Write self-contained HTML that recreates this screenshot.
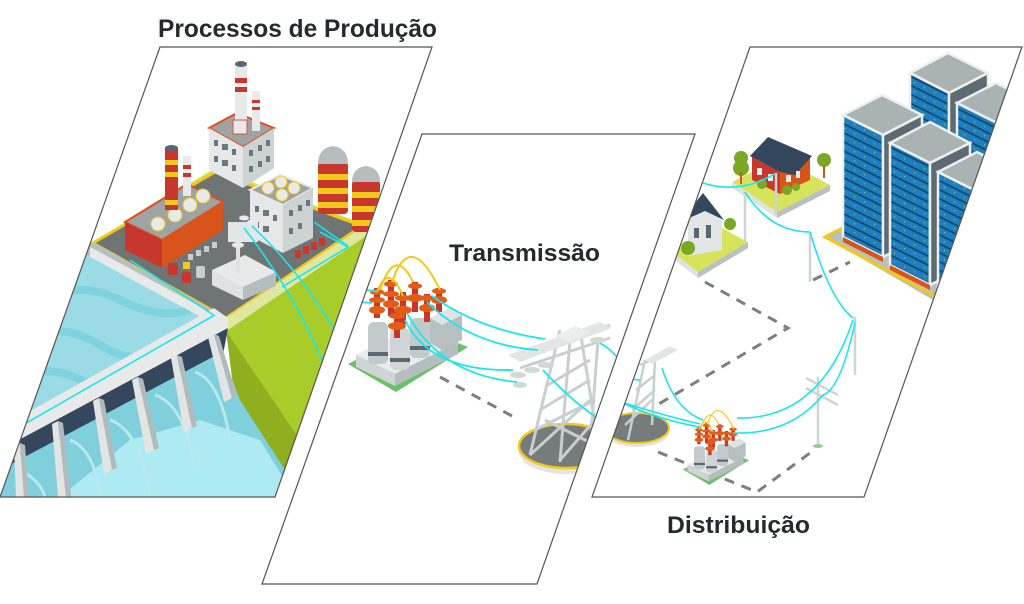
<!DOCTYPE html>
<html><head><meta charset="utf-8"><style>
html,body{margin:0;padding:0;background:#fff;}
svg{display:block}
text{font-family:"Liberation Sans",sans-serif;font-weight:bold;fill:#262a30}
</style></head><body>
<svg width="1024" height="604" viewBox="0 0 1024 604" xmlns="http://www.w3.org/2000/svg">
<defs>
<clipPath id="c1"><polygon points="160,47 432,47 275,497 0,497"/></clipPath>
<clipPath id="c2"><polygon points="422,134 695,134 537,584 262,584"/></clipPath>
<clipPath id="c3"><polygon points="750,47 1022,47 864,497 592,497"/></clipPath>
<pattern id="srv" width="10" height="9" patternUnits="userSpaceOnUse" patternTransform="skewY(26.565)">
<rect width="10" height="9" fill="#1d7fc0"/><rect y="7" width="10" height="2" fill="#15476e"/><rect x="4" y="3" width="1" height="1" fill="#b6e05a"/>
</pattern>
<g id="trans">
<polygon points="348,364 420,328 468,347 396,392" fill="#6cc06a"/>
<polygon points="356,355 420,323 458,342 395,374" fill="#e9ecec"/>
<polygon points="356,355 395,374 395,386 356,367" fill="#cfd4d5"/>
<polygon points="395,374 458,342 458,354 395,386" fill="#b5bdbe"/>
<polygon points="430,318 450,308 462,315 462,340 442,350 430,343" fill="#b7c0c1"/>
<polygon points="430,318 450,308 462,315 442,325" fill="#dfe3e3"/>
<rect x="368" y="322" width="20" height="42" rx="6" fill="#c3cacb"/><rect x="368" y="352" width="20" height="4" fill="#5a6670"/>
<rect x="390" y="328" width="20" height="42" rx="6" fill="#d0d6d7"/><rect x="390" y="358" width="20" height="4" fill="#5a6670"/>
<rect x="410" y="318" width="20" height="40" rx="6" fill="#c3cacb"/><rect x="410" y="346" width="20" height="4" fill="#5a6670"/>
<g fill="#c8372d"><rect x="374" y="288" width="6" height="30"/><rect x="388" y="280" width="6" height="36"/><rect x="400" y="292" width="6" height="32"/><rect x="412" y="282" width="6" height="30"/><rect x="424" y="294" width="6" height="28"/><rect x="436" y="288" width="6" height="24"/><rect x="394" y="310" width="6" height="28"/></g>
<g fill="#e35d17"><ellipse cx="377" cy="292" rx="7" ry="3"/><ellipse cx="377" cy="300" rx="8" ry="3"/><ellipse cx="377" cy="310" rx="8" ry="4"/><ellipse cx="391" cy="284" rx="7" ry="3"/><ellipse cx="391" cy="294" rx="8" ry="3"/><ellipse cx="391" cy="304" rx="8" ry="4"/><ellipse cx="403" cy="298" rx="8" ry="3"/><ellipse cx="403" cy="310" rx="9" ry="4"/><ellipse cx="415" cy="286" rx="7" ry="3"/><ellipse cx="415" cy="298" rx="8" ry="4"/><ellipse cx="427" cy="298" rx="7" ry="3"/><ellipse cx="427" cy="308" rx="8" ry="4"/><ellipse cx="439" cy="291" rx="7" ry="3"/><ellipse cx="439" cy="300" rx="8" ry="4"/><ellipse cx="397" cy="316" rx="8" ry="3"/><ellipse cx="397" cy="326" rx="9" ry="4"/></g>
<g fill="none" stroke="#f2c81b" stroke-width="2"><path d="M380,290 Q395,245 413,282"/><path d="M392,282 Q410,228 440,290"/><path d="M377,292 Q388,262 403,296"/></g>
</g>
</defs>

<!-- ============ PANEL 1 ============ -->
<g clip-path="url(#c1)">
<polygon points="80,250 215,168 380,230 300,290" fill="#d8e35c"/>
<polygon points="93,243 215,172 362,226 226,318" fill="#6f7575" stroke="#f2c81b" stroke-width="3"/>
<polygon points="226,318 370,225 380,225 330,497 280,497 240,440 226,330" fill="#a8cc2a"/>
<polygon points="226,330 240,440 280,497 320,497 300,440 232,340" fill="#8faf1f"/>
<polygon points="226,318 370,222 372,232 228,330" fill="#dfe7a0"/>
<polygon points="0,260 90,255 216,318 30,420 0,430" fill="#9adbe6"/>
<path d="M40,300 Q80,280 120,300 T190,310 M20,340 Q60,320 100,345 T170,345 M10,380 Q50,360 90,385" stroke="#7fd3df" stroke-width="8" fill="none"/>
<polygon points="0,250 95,243 226,318 226,330 95,255 0,262" fill="#b6c0c0"/>
<polygon points="90,247 225,320 225,330 90,257" fill="#e8eaea"/>
<polygon points="0,428 214,308 228,318 228,330 14,448 0,452" fill="#e8eaea"/>
<polygon points="0,450 228,328 222,360 0,480" fill="#34475d"/>
<polygon points="0,470 222,352 240,400 285,470 295,497 0,497" fill="#7fcfdc"/>
<polygon points="60,497 130,440 200,420 260,440 295,497" fill="#aeeaf2"/>
<g stroke="#b7e9ef" stroke-width="3" fill="none">
<path d="M20,470 Q40,480 45,497"/><path d="M70,440 Q95,450 100,497"/><path d="M110,420 Q140,430 150,497"/><path d="M155,395 Q185,405 195,470"/><path d="M195,372 Q220,380 230,440"/>
</g>
<g fill="#e3e5e5">
<polygon points="14,446 20,443 24,497 16,497"/><polygon points="52,424 58,421 66,497 58,497"/><polygon points="93,401 99,398 112,470 104,474"/><polygon points="132,380 138,377 154,450 146,454"/><polygon points="171,358 177,355 192,428 184,432"/><polygon points="208,337 214,334 232,398 224,402"/>
</g>
<g fill="#b2bbbb">
<polygon points="20,443 25,445 29,497 24,497"/><polygon points="58,421 63,423 71,497 66,497"/><polygon points="99,398 104,400 117,468 112,470"/><polygon points="138,377 143,379 159,448 154,450"/><polygon points="177,355 182,357 197,426 192,428"/><polygon points="214,334 219,336 237,396 232,398"/>
</g>
<path d="M0,438 L213,316" stroke="#19e6ee" stroke-width="1.6"/>
<polyline points="130,260 215,316" stroke="#19e6ee" stroke-width="1.6" fill="none"/>
<polyline points="282,287 348,247 320,232" stroke="#19e6ee" stroke-width="1.6" fill="none"/>
<polygon points="125,222 187,184 223,202 162,240" fill="#9ea4a4" stroke="#e44d1c" stroke-width="2"/>
<polygon points="125,222 162,240 162,268 125,250" fill="#c8372d"/>
<polygon points="162,240 223,202 223,230 162,268" fill="#d9541a"/>
<g fill="#e8eaea" stroke="#f2c81b" stroke-width="1"><circle cx="158" cy="224" r="7"/><circle cx="175" cy="215" r="7"/><circle cx="190" cy="205" r="7"/><circle cx="203" cy="196" r="7"/></g>
<rect x="165" y="148" width="13" height="62" fill="#c8372d"/><rect x="165" y="160" width="13" height="5" fill="#f2c81b"/><rect x="165" y="172" width="13" height="5" fill="#f2c81b"/><rect x="165" y="200" width="13" height="5" fill="#f2c81b"/><ellipse cx="171.5" cy="148" rx="6.5" ry="3" fill="#5a6670"/>
<rect x="183" y="156" width="8" height="40" fill="#e8eaea"/><rect x="183" y="165" width="8" height="4" fill="#c8372d"/><rect x="183" y="173" width="8" height="4" fill="#c8372d"/>
<polygon points="209,128 237,113 274,128 243,147" fill="#9ea4a4" stroke="#e44d1c" stroke-width="2"/>
<polygon points="209,128 243,147 243,188 209,170" fill="#e6e8e8"/>
<polygon points="243,147 274,128 274,168 243,188" fill="#cdd2d3"/>
<g fill="#6a7880"><rect x="214" y="140" width="4" height="6"/><rect x="222" y="144" width="6" height="6"/><rect x="232" y="149" width="4" height="6"/><rect x="214" y="156" width="4" height="6"/><rect x="222" y="160" width="6" height="6"/><rect x="232" y="165" width="4" height="6"/><rect x="249" y="150" width="4" height="6"/><rect x="258" y="145" width="4" height="6"/><rect x="266" y="140" width="4" height="6"/><rect x="249" y="166" width="4" height="6"/><rect x="258" y="161" width="4" height="6"/><rect x="266" y="156" width="4" height="6"/></g>
<rect x="235" y="64" width="12" height="62" fill="#e8eaea"/><rect x="235" y="78" width="12" height="5" fill="#c8372d"/><rect x="235" y="87" width="12" height="5" fill="#c8372d"/><ellipse cx="241" cy="64" rx="6" ry="3" fill="#5a6670"/>
<rect x="252" y="91" width="8" height="40" fill="#e8eaea"/><rect x="252" y="100" width="8" height="3" fill="#c8372d"/><rect x="252" y="107" width="8" height="3" fill="#c8372d"/>
<rect x="233" y="120" width="14" height="14" fill="#e8eaea" stroke="#d9541a"/>
<polygon points="250,190 280,175 313,188 283,205" fill="#9ea4a4" stroke="#e8eaea" stroke-width="2"/>
<polygon points="250,190 283,205 283,253 250,236" fill="#e6e8e8"/>
<polygon points="283,205 313,188 313,238 283,253" fill="#cdd2d3"/>
<g fill="#e8eaea" stroke="#f2c81b" stroke-width="1"><circle cx="268" cy="188" r="6"/><circle cx="281" cy="182" r="6"/><circle cx="294" cy="188" r="6"/><circle cx="282" cy="195" r="6"/></g>
<g fill="#6a7880"><rect x="255" y="206" width="4" height="6"/><rect x="263" y="210" width="6" height="6"/><rect x="273" y="215" width="4" height="6"/><rect x="255" y="222" width="4" height="6"/><rect x="263" y="226" width="6" height="6"/><rect x="289" y="210" width="4" height="6"/><rect x="298" y="205" width="4" height="6"/><rect x="306" y="200" width="4" height="6"/><rect x="289" y="228" width="4" height="6"/><rect x="298" y="223" width="4" height="6"/></g>
<polyline points="314,222 348,246" stroke="#19e6ee" stroke-width="1.6" fill="none"/>
<rect x="318" y="162" width="30" height="52" rx="4" fill="#c8372d"/><rect x="318" y="174" width="30" height="6" fill="#f2c81b"/><rect x="318" y="188" width="30" height="6" fill="#f2c81b"/><rect x="318" y="202" width="30" height="6" fill="#f2c81b"/>
<path d="M318,164 Q318,148 333,146 Q348,148 348,164 Z" fill="#b5bdbe"/>
<rect x="352" y="180" width="28" height="52" rx="4" fill="#c8372d"/><rect x="352" y="192" width="28" height="6" fill="#f2c81b"/><rect x="352" y="206" width="28" height="6" fill="#f2c81b"/><rect x="352" y="220" width="28" height="6" fill="#f2c81b"/>
<path d="M352,182 Q352,168 366,166 Q380,168 380,182 Z" fill="#b5bdbe"/>
<polygon points="212,270 245,255 276,272 243,290" fill="#e8eaea"/><polygon points="212,270 243,287 243,300 212,285" fill="#dfe2e2"/><polygon points="243,287 276,272 276,286 243,300" fill="#b5bdbe"/>
<rect x="236" y="245" width="4" height="28" fill="#dfe2e2"/><ellipse cx="238" cy="245" rx="6" ry="3" fill="#e8eaea"/>
<rect x="228" y="222" width="30" height="20" fill="#e3e6e6"/><ellipse cx="244" cy="218" rx="5" ry="2.5" fill="#e8eaea"/><ellipse cx="252" cy="222" rx="5" ry="2.5" fill="#e8eaea"/>
<g fill="#c8372d"><rect x="168" y="263" width="10" height="12" rx="2"/><rect x="182" y="272" width="9" height="11" rx="2"/><rect x="295" y="250" width="6" height="8"/><rect x="303" y="246" width="6" height="8"/><rect x="311" y="242" width="6" height="8"/><rect x="319" y="238" width="6" height="8"/></g>
<g fill="#c8ced0"><rect x="196" y="266" width="9" height="12" rx="2"/><rect x="188" y="254" width="5" height="6"/><rect x="196" y="250" width="5" height="6"/><rect x="204" y="246" width="5" height="6"/><rect x="212" y="242" width="5" height="6"/></g>
<rect x="183" y="262" width="7" height="7" fill="#f2c81b"/>
<path d="M244,228 Q300,300 330,380" stroke="#19e6ee" stroke-width="1.6" fill="none"/>
<path d="M252,226 Q320,290 360,380" stroke="#19e6ee" stroke-width="1.6" fill="none"/>
</g>
<polygon points="160,47 432,47 275,497 0,497" fill="none" stroke="#555" stroke-width="1.2"/>

<!-- ============ PANEL 2 ============ -->
<g clip-path="url(#c2)">
<line x1="440" y1="377" x2="512" y2="416" stroke="#7b7f80" stroke-width="3" stroke-dasharray="10,8"/>
<ellipse cx="566" cy="452" rx="47" ry="22" fill="#e3e5e5"/>
<ellipse cx="566" cy="446" rx="47" ry="22" fill="#767c7c" stroke="#f2c81b" stroke-width="2.5"/>
<g stroke="#c9cfd1" stroke-width="3" fill="none">
<path d="M530,455 L560,330 M600,455 L580,330 M560,462 L570,340 M590,448 L598,340"/>
<path d="M535,430 L595,400 M540,410 L590,380 M548,385 L590,360 M530,455 L590,400 M560,460 L595,420 M545,420 L595,445"/>
<path d="M515,358 L610,325 M520,368 L610,338"/>
</g>
<polygon points="508,355 600,322 612,328 520,362" fill="#e3e5e5"/>
<polygon points="556,336 575,326 590,332 570,342" fill="#eceeee"/>
<g fill="#d2d7d8"><ellipse cx="518" cy="375" rx="8" ry="3"/><ellipse cx="532" cy="370" rx="8" ry="3"/><ellipse cx="546" cy="365" rx="8" ry="3"/><ellipse cx="520" cy="385" rx="7" ry="3"/><ellipse cx="598" cy="340" rx="8" ry="3"/></g>
<use href="#trans"/>
<g stroke="#19e6ee" stroke-width="1.8" fill="none">
<path d="M330,283 L378,292"/><path d="M330,300 L372,303"/>
<path d="M432,296 Q480,330 545,339"/><path d="M427,302 Q470,345 538,350"/>
<path d="M407,313 Q440,375 517,382"/><path d="M405,320 Q430,372 513,370"/>
<path d="M543,370 Q570,400 600,420"/><path d="M600,343 Q615,352 620,362"/>
</g>
</g>
<polygon points="422,134 695,134 537,584 262,584" fill="none" stroke="#555" stroke-width="1.2"/>

<!-- ============ PANEL 3 ============ -->
<g clip-path="url(#c3)">
<g stroke="#7b7f80" stroke-width="3" stroke-dasharray="10,8" fill="none">
<polyline points="705,282 788,328 657,405"/>
<polyline points="658,452 757,492 810,453"/>
<polyline points="813,280 850,262"/>
</g>
<polygon points="825,237 940,178 1050,240 933,300" fill="#b8c0c0"/>
<polygon points="825,237 940,178 1050,240 933,295" fill="none" stroke="#f2c81b" stroke-width="3"/>
<g stroke="#eef0f0" stroke-width="2.5">
<polygon points="910,73 948,53 988,73 949,93" fill="#aab3b4"/>
<polygon points="910,73 949,93 949,215 910,195" fill="url(#srv)"/>
<polygon points="949,93 988,73 988,195 949,215" fill="#5d6b73"/>
<polygon points="957,103 996,83 1036,103 997,123" fill="#aab3b4"/>
<polygon points="957,103 997,123 997,245 957,225" fill="url(#srv)"/>
<polygon points="843,115 882,95 922,115 883,135" fill="#aab3b4"/>
<polygon points="843,115 883,135 883,257 843,237" fill="url(#srv)"/>
<polygon points="883,135 922,115 922,237 883,257" fill="#5d6b73"/>
<polygon points="890,143 930,122 970,143 930,163" fill="#aab3b4"/>
<polygon points="890,143 930,163 930,285 890,265" fill="url(#srv)"/>
<polygon points="930,163 970,143 970,265 930,285" fill="#5d6b73"/>
<polygon points="938,172 977,152 1017,172 978,192" fill="#aab3b4"/>
<polygon points="938,172 978,192 978,314 938,294" fill="url(#srv)"/>
</g>
<polygon points="843,237 883,257 883,262 843,242" fill="#d9541a"/>
<polygon points="890,265 930,285 930,290 890,270" fill="#d9541a"/>
<polygon points="732,182 780,158 830,185 777,212" fill="#d8e35c"/>
<polygon points="732,182 777,212 777,218 732,188" fill="#dfe2e2"/><polygon points="777,212 830,185 830,191 777,218" fill="#b8c0c0"/>
<polygon points="752,157 780,172 780,194 752,180" fill="#c8372d"/>
<polygon points="780,172 810,156 810,180 780,194" fill="#d9541a"/>
<polygon points="750,156 768,137 812,156 795,175 780,172" fill="#34475d"/>
<g fill="#e8eaea"><rect x="757" y="168" width="5" height="7"/><rect x="768" y="174" width="5" height="7"/><rect x="786" y="175" width="5" height="7"/><rect x="796" y="171" width="4" height="7"/></g>
<g fill="#7aa824"><circle cx="741" cy="158" r="7"/><circle cx="741" cy="168" r="8"/><circle cx="824" cy="160" r="7"/><circle cx="762" cy="184" r="5"/><circle cx="787" cy="190" r="5"/><circle cx="796" cy="187" r="4"/></g>
<rect x="740" y="172" width="2" height="12" fill="#d9541a"/><rect x="823" y="166" width="2" height="12" fill="#d9541a"/>
<polygon points="672,252 722,228 748,242 698,272" fill="#d8e35c"/>
<polygon points="672,252 698,272 698,278 672,258" fill="#dfe2e2"/><polygon points="698,272 748,242 748,248 698,278" fill="#b8c0c0"/>
<polygon points="688,218 705,208 722,220 722,250 688,256" fill="#e3e6e6"/>
<polygon points="680,222 703,193 724,220 705,211" fill="#34475d"/>
<g fill="#5a6670"><rect x="694" y="228" width="5" height="10"/><rect x="706" y="225" width="5" height="13"/></g>
<circle cx="730" cy="224" r="6" fill="#7aa824"/><circle cx="688" cy="248" r="7" fill="#7aa824"/>
<g stroke="#cfd4d5" stroke-width="2.5">
<line x1="745" y1="192" x2="745" y2="242"/><line x1="776" y1="173" x2="776" y2="215"/>
<line x1="810" y1="232" x2="810" y2="282"/><line x1="855" y1="317" x2="855" y2="375"/>
<line x1="818" y1="377" x2="818" y2="445"/><line x1="806" y1="378" x2="838" y2="395"/><line x1="806" y1="388" x2="838" y2="405"/>
</g>
<ellipse cx="818" cy="446" rx="5" ry="2" fill="#8fd08a"/>
<ellipse cx="637" cy="432" rx="32" ry="15" fill="#e3e5e5"/>
<ellipse cx="637" cy="428" rx="32" ry="15" fill="#767c7c" stroke="#f2c81b" stroke-width="2"/>
<g stroke="#c9cfd1" stroke-width="2.5" fill="none">
<path d="M628,440 L645,360 M652,425 L655,360 M632,410 L655,390 M636,390 L655,375 M625,425 L652,400"/>
<path d="M640,365 L668,352"/>
</g>
<polygon points="645,360 670,346 678,350 652,364" fill="#e3e5e5"/>
<use href="#trans" transform="translate(491.6,269.25) scale(0.55)"/>
<g stroke="#19e6ee" stroke-width="1.6" fill="none">
<path d="M703,183 Q740,195 776,173"/>
<path d="M745,192 Q770,232 810,232"/>
<path d="M810,232 Q830,300 853,318"/>
<path d="M853,320 Q820,420 737,418"/>
<path d="M855,323 Q840,390 823,395 Q790,435 733,433"/>
<path d="M662,368 Q675,410 703,420"/>
<path d="M623,403 Q660,420 700,427"/>
<path d="M600,395 Q650,412 700,424"/>
<path d="M590,360 Q625,380 640,380"/>
</g>
</g>
<polygon points="750,47 1022,47 864,497 592,497" fill="none" stroke="#555" stroke-width="1.2"/>

<text x="158" y="37" font-size="25" textLength="279" lengthAdjust="spacingAndGlyphs">Processos de Produção</text>
<text x="449" y="261" font-size="24" textLength="151" lengthAdjust="spacingAndGlyphs">Transmissão</text>
<text x="667" y="533" font-size="24" textLength="143" lengthAdjust="spacingAndGlyphs">Distribuição</text>
</svg>
</body></html>
